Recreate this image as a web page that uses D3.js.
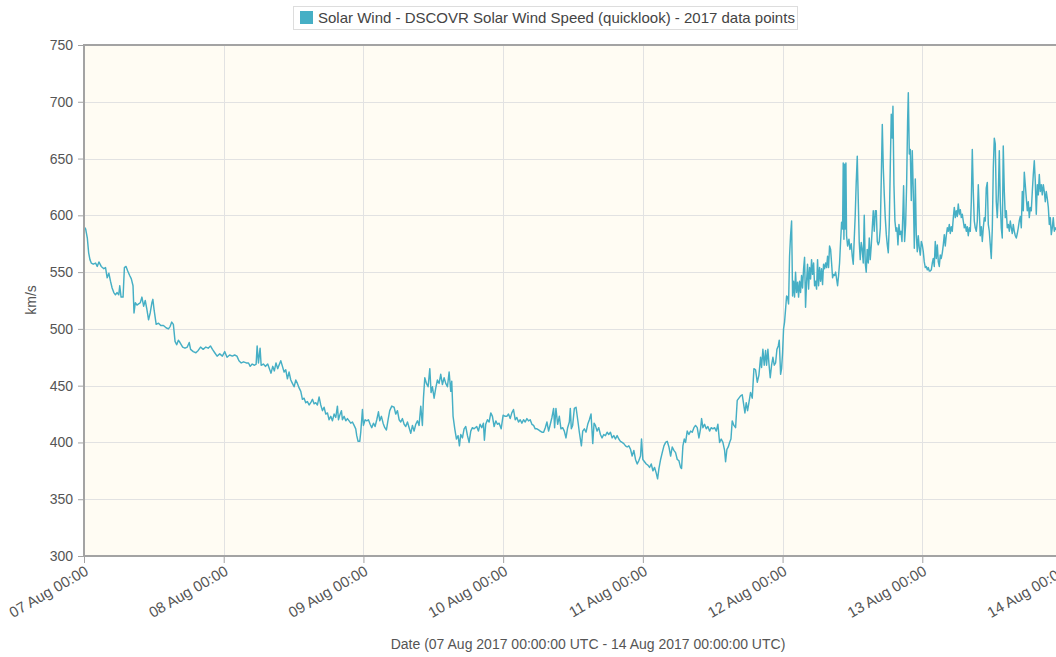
<!DOCTYPE html>
<html><head><meta charset="utf-8">
<script src="https://cdn.jsdelivr.net/npm/d3@7"></script>
<style>
html,body{margin:0;padding:0;background:#fff;overflow:hidden}
svg{display:block;font-family:"Liberation Sans",Arial,sans-serif}
</style></head><body>
<svg id="chart" width="1056" height="657"></svg>
<script>
const seriesName = "Solar Wind - DSCOVR Solar Wind Speed (quicklook) - 2017 data points";
const xTitle = "Date (07 Aug 2017 00:00:00 UTC - 14 Aug 2017 00:00:00 UTC)";
const yTitle = "km/s";
const startUtc = Date.UTC(2017, 7, 7);
const yTickValues = [300, 350, 400, 450, 500, 550, 600, 650, 700, 750];
const dayTickOffsets = [0, 1, 2, 3, 4, 5, 6, 7];

// hours after 07 Aug 2017 00:00 UTC
const hoursSinceStart = [
0,0.28,0.57,0.80,1.02,1.25,1.59,1.99,2.27,2.56,2.96,3.41,3.70,3.98,4.27,4.55,4.83,5.12,5.40,5.69,5.97,6.14,6.37,6.71,6.94,7.22,7.51,7.85,8.13,8.42,8.59,8.81,9.10,9.38,9.67,9.95,10.24,10.52,10.81,11.09,11.37,11.66,11.83,12.06,12.40,12.80,13.19,13.65,14.10,14.50,14.79,15.07,15.35,15.64,15.92,16.21,16.49,16.95,17.35,17.74,18.08,18.31,18.77,19.22,19.62,20.02,20.47,20.93,21.33,21.72,22.07,22.46,22.86,23.32,23.77,24.17,24.57,25.02,25.48,25.88,26.27,26.62,27.01,27.41,27.87,28.26,28.55,28.89,29.29,29.57,29.74,29.97,30.25,30.43,30.82,31.16,31.56,31.85,32.13,32.42,32.70,32.98,33.27,
33.80,34.09,34.37,34.66,34.94,35.23,35.52,35.80,36.09,36.38,36.66,36.95,37.24,37.52,37.81,38.09,38.38,38.67,38.95,39.24,39.52,39.81,40.10,40.38,40.67,40.96,41.24,41.53,41.82,42.10,42.39,42.67,42.96,43.25,43.53,43.71,43.93,44.22,44.39,44.68,44.97,45.25,45.54,45.82,46.11,46.40,46.68,46.85,47.08,47.37,47.54,47.83,48.00,48.29,48.57,48.86,49.15,49.43,49.72,50.00,50.29,50.58,50.81,51.09,51.38,51.67,51.95,52.24,52.52,52.87,53.27,53.55,53.84,54.13,54.41,54.70,54.99,55.27,55.56,55.85,56.13,56.42,56.70,56.99,57.28,57.56,57.85,58.13,58.31,58.54,58.82,59.11,59.40,59.62,59.85,60.14,60.43,60.71,61.00,61.28,61.57,61.86,62.14,62.43,62.72,63.00,63.17,63.40,63.69,63.98,64.26,64.49,64.72,65.01,65.29,65.58,65.87,66.15,66.44,66.72,67.01,
67.46,67.75,68.04,68.33,68.61,68.78,69.01,69.30,69.59,69.88,70.16,70.45,70.74,71.02,71.31,71.66,72.00,72.35,72.63,72.92,73.21,73.49,73.78,74.07,74.35,74.64,74.93,75.22,75.50,75.79,76.08,76.36,76.65,76.94,77.23,77.51,77.80,78.09,78.37,78.66,78.95,79.24,79.52,79.81,80.10,80.38,80.67,80.84,81.07,81.36,81.65,81.93,82.22,82.51,82.79,83.08,83.37,83.54,83.71,83.94,84.23,84.52,84.81,85.09,85.44,85.67,85.95,86.24,86.53,86.81,87.10,87.39,87.62,87.85,88.13,88.42,88.71,88.99,89.28,89.57,89.86,90.14,90.43,90.72,91.01,91.29,91.58,91.87,92.15,92.44,92.73,93.02,93.30,93.59,93.88,94.16,94.45,94.74,95.03,95.31,95.60,95.77,96.00,96.29,96.58,96.86,97.15,97.44,97.73,98.01,98.30,98.53,98.76,99.05,99.33,99.62,99.91,100.19,100.48,100.77,
101.05,101.33,101.62,101.91,102.19,102.48,102.65,102.88,103.11,103.34,103.62,103.91,104.20,104.48,104.77,105.05,105.34,105.63,105.91,106.09,106.31,106.60,106.89,107.17,107.46,107.75,108.03,108.32,108.61,108.89,109.18,109.46,109.75,110.04,110.21,110.44,110.67,110.90,111.13,111.35,111.64,111.93,112.21,112.50,112.79,113.07,113.36,113.53,113.76,113.99,114.22,114.50,114.79,115.08,115.36,115.65,115.93,116.22,116.39,116.62,116.85,117.08,117.25,117.48,117.65,117.88,118.11,118.34,118.57,118.80,119.03,119.26,119.43,119.66,119.83,120.00,120.17,120.34,120.51,120.69,120.86,121.03,121.20,121.37,121.55,121.72,121.89,122.06,122.23,122.40,122.58,122.75,122.92,123.09,123.26,123.43,123.61,123.78,123.95,124.12,124.29,124.47,124.64,124.81,124.98,125.15,125.33,125.50,125.67,125.84,126.01,126.18,126.36,126.53,126.70,126.87,127.04,127.22,127.39,127.56,127.73,127.90,128.07,128.25,128.42,128.59,128.76,128.93,129.11,129.28,129.45,129.62,129.79,129.96,130.14,130.31,130.42,130.54,130.65,130.76,130.88,130.99,131.17,131.40,131.57,131.80,131.97,132.14,132.31,132.48,132.65,132.83,133.00,133.17,133.34,133.51,133.68,133.86,134.03,134.20,134.37,134.54,134.72,134.89,135.06,135.23,
135.41,135.58,135.75,135.93,136.10,136.27,136.44,136.61,136.79,136.96,137.13,137.30,137.47,137.64,137.82,137.99,138.16,138.33,138.50,138.67,138.85,138.96,139.13,139.30,139.48,139.65,139.82,139.99,140.16,140.34,140.51,140.68,140.79,140.96,141.14,141.31,141.48,141.60,141.77,141.94,142.11,142.28,142.45,142.63,142.80,142.97,143.14,143.31,143.49,143.66,143.83,144.00,144.17,144.34,144.52,144.69,144.86,145.03,145.20,145.37,145.55,145.72,145.89,146.06,146.23,146.41,146.58,146.75,146.92,147.09,147.26,147.44,147.61,147.78,147.95,148.12,148.30,148.47,148.64,148.81,148.98,149.15,149.33,149.50,149.67,149.84,150.01,150.18,150.36,150.53,150.70,150.87,151.04,151.22,151.39,151.56,151.73,151.90,152.07,152.25,152.42,152.59,152.76,152.93,153.10,153.28,153.45,153.62,153.79,153.96,154.14,154.31,154.48,154.65,154.82,154.99,155.17,155.34,155.51,155.68,155.85,156.03,156.20,156.37,156.54,156.71,156.88,157.06,157.23,157.40,157.57,157.74,157.91,158.09,158.26,158.43,158.60,158.77,158.95,159.12,159.29,159.46,159.63,159.80,159.98,160.15,160.32,160.49,160.66,160.84,161.01,161.18,161.35,161.52,161.69,161.87,162.04,162.21,162.38,162.55,162.72,162.90,163.07,163.24,163.41,163.58,163.76,163.93,164.10,164.27,164.44,164.61,164.79,164.96,165.13,165.30,165.47,165.65,165.82,165.99,166.16,166.33,166.50,166.68,166.85,167.30,168.00
];

// solar wind speed, km/s
const speedKms = [
590,588,580,567,561,558,557,558,555,559,555,553,554,545,549,542,536,532,530,532,530,538,528,528,554,555,551,547,544,538,514,523,521,522,523,528,520,525,517,508,514,523,526,516,504,505,503,503,501,500,502,506,504,489,486,490,488,484,483,484,488,482,480,479,481,484,482,484,483,485,482,479,476,478,476,480,475,477,476,477,476,472,470,471,470,470,467,469,468,469,485,470,483,468,469,467,469,465,461,467,463,470,465,
472,467,462,464,456,462,455,452,449,455,452,448,445,438,439,435,436,433,435,438,434,435,433,440,433,428,431,425,426,420,423,419,425,422,432,420,424,428,420,423,419,421,419,417,418,415,412,406,401,401,409,429,415,420,419,420,416,413,417,414,420,427,419,423,417,413,411,420,428,432,431,425,428,420,418,421,416,414,418,413,408,415,410,416,419,415,432,415,439,457,452,449,465,444,449,439,448,455,452,460,451,457,452,449,462,445,454,423,412,403,406,397,407,404,412,414,406,400,410,413,412,
414,410,416,413,417,402,416,420,418,426,423,414,419,416,417,412,424,423,423,425,421,426,429,420,422,418,420,417,420,418,421,419,420,416,415,412,412,411,410,409,409,413,418,410,416,422,430,413,430,416,423,412,413,410,404,413,418,430,412,415,430,431,420,409,397,410,412,409,416,420,425,399,417,415,410,413,407,404,407,406,409,407,409,404,406,403,406,403,401,400,399,397,396,397,394,388,393,385,381,384,388,403,385,383,381,380,378,381,375,378,373,368,377,385,391,397,400,401,396,388,
396,393,391,385,384,378,377,397,403,400,410,407,410,409,413,415,413,404,412,421,413,416,412,414,410,413,412,413,410,416,400,403,400,393,383,394,396,400,403,419,415,413,437,439,441,442,432,426,435,428,435,444,439,465,464,453,459,475,466,482,468,481,468,482,470,457,468,475,468,470,482,485,490,460,465,479,500,506,517,529,528,522,564,582,595,529,542,528,550,532,541,528,542,532,547,536,553,563,519,541,557,535,554,544,561,548,558,538,542,535,561,538,554,542,553,539,557,553,558,554,564,554,573,570,558,545,548,547,550,544,538,547,558,576,594,588,646,579,645,588,646,582,573,579,570,575,564,557,579,600,629,652,614,576,561,576,570,558,600,558,550,570,558,580,561,573,
589,604,586,604,604,577,574,577,589,633,680,642,618,598,583,574,567,592,642,689,668,696,627,595,586,589,574,592,583,586,577,604,626,577,592,627,683,708,654,658,613,657,621,571,632,583,568,582,571,565,577,574,568,559,554,555,552,554,551,551,552,558,562,555,577,562,574,559,555,565,562,567,574,583,573,582,589,586,592,584,590,586,598,607,598,604,599,610,601,605,598,601,595,589,592,586,590,582,589,586,612,658,621,595,589,586,595,627,604,582,590,577,589,598,595,624,629,592,586,574,562,589,642,668,663,612,598,618,657,612,589,580,661,621,598,604,589,592,586,595,589,584,592,586,582,580,584,589,595,599,589,621,604,638,627,615,604,612,598,607,604,621,636,648,630,601,627,618,636,621,627,618,627,621,612,621,615,607,592,598,583,589,598,586,589,586,590
];

const svg = d3.select("#chart");
const plot = {left: 84, top: 45, right: 1062, bottom: 556};

const x = d3.scaleUtc()
  .domain([new Date(startUtc), new Date(startUtc + 7 * 864e5)])
  .range([plot.left, plot.right]);
const y = d3.scaleLinear().domain([300, 750]).range([plot.bottom, plot.top]);

const data = hoursSinceStart.map((h, i) => ({t: new Date(startUtc + h * 3600e3), v: speedKms[i]}));
const dayDates = dayTickOffsets.map(d => new Date(startUtc + d * 864e5));

// plot background
svg.append("rect").attr("x", plot.left).attr("y", plot.top)
  .attr("width", plot.right - plot.left).attr("height", plot.bottom - plot.top)
  .attr("fill", "#fffcf3");

// grid
const grid = svg.append("g").attr("stroke", "#e2e2e2").attr("stroke-width", 1);
grid.selectAll("line.h").data(yTickValues.filter(v => v > 300 && v < 750)).join("line")
  .attr("x1", plot.left).attr("x2", plot.right)
  .attr("y1", d => Math.round(y(d)) + 0.5).attr("y2", d => Math.round(y(d)) + 0.5);
grid.selectAll("line.v").data(dayDates.slice(1, 7)).join("line")
  .attr("y1", plot.top).attr("y2", plot.bottom)
  .attr("x1", d => Math.round(x(d)) + 0.5).attr("x2", d => Math.round(x(d)) + 0.5);

// line
svg.append("clipPath").attr("id", "clip").append("rect")
  .attr("x", plot.left).attr("y", plot.top)
  .attr("width", plot.right - plot.left).attr("height", plot.bottom - plot.top);
svg.append("path").datum(data)
  .attr("clip-path", "url(#clip)")
  .attr("fill", "none").attr("stroke", "#46afc5").attr("stroke-width", 1.45)
  .attr("stroke-linejoin", "round")
  .attr("d", d3.line().x(d => x(d.t)).y(d => y(d.v)));

// frame
svg.append("rect").attr("x", plot.left).attr("y", plot.top)
  .attr("width", plot.right - plot.left).attr("height", plot.bottom - plot.top)
  .attr("fill", "none").attr("stroke", "#a3a3a3").attr("stroke-width", 2);

// y axis
const yAxis = svg.append("g").attr("transform", `translate(${plot.left - 1},0)`)
  .call(d3.axisLeft(y).tickValues(yTickValues).tickSize(5).tickPadding(5).tickFormat(d3.format("d")));
yAxis.select(".domain").remove();
yAxis.selectAll(".tick line").attr("stroke", "#a3a3a3");
yAxis.selectAll(".tick text").attr("fill", "#555").style("font-size", "14px")
  .style("font-family", '"Liberation Sans",Arial,sans-serif');

// x axis
const xAxis = svg.append("g").attr("transform", `translate(0,${plot.bottom + 1})`)
  .call(d3.axisBottom(x).tickValues(dayDates).tickSize(6).tickFormat(d3.utcFormat("%d %b %H:%M")));
xAxis.select(".domain").remove();
xAxis.selectAll(".tick line").attr("stroke", "#a3a3a3");
xAxis.selectAll(".tick text")
  .attr("fill", "#555").style("font-size", "15px")
  .style("font-family", '"Liberation Sans",Arial,sans-serif')
  .attr("text-anchor", "end").attr("dy", null).attr("y", null)
  .attr("transform", "translate(5,17) rotate(-30)");

// axis titles
svg.append("text").attr("x", 588).attr("y", 649).attr("text-anchor", "middle")
  .attr("fill", "#555").style("font-size", "14px").text(xTitle);
svg.append("text").attr("transform", "translate(36,300) rotate(-90)").attr("text-anchor", "middle")
  .attr("fill", "#555").style("font-size", "14px").text(yTitle);

// legend
const lg = svg.append("g");
lg.append("rect").attr("x", 293.5).attr("y", 6.5).attr("width", 504).attr("height", 23)
  .attr("fill", "#fff").attr("stroke", "#ddd");
lg.append("rect").attr("x", 300).attr("y", 11).attr("width", 13).attr("height", 13).attr("fill", "#46afc5");
lg.append("text").attr("x", 318).attr("y", 23).attr("fill", "#444").style("font-size", "15px").text(seriesName);
</script>
</body></html>
